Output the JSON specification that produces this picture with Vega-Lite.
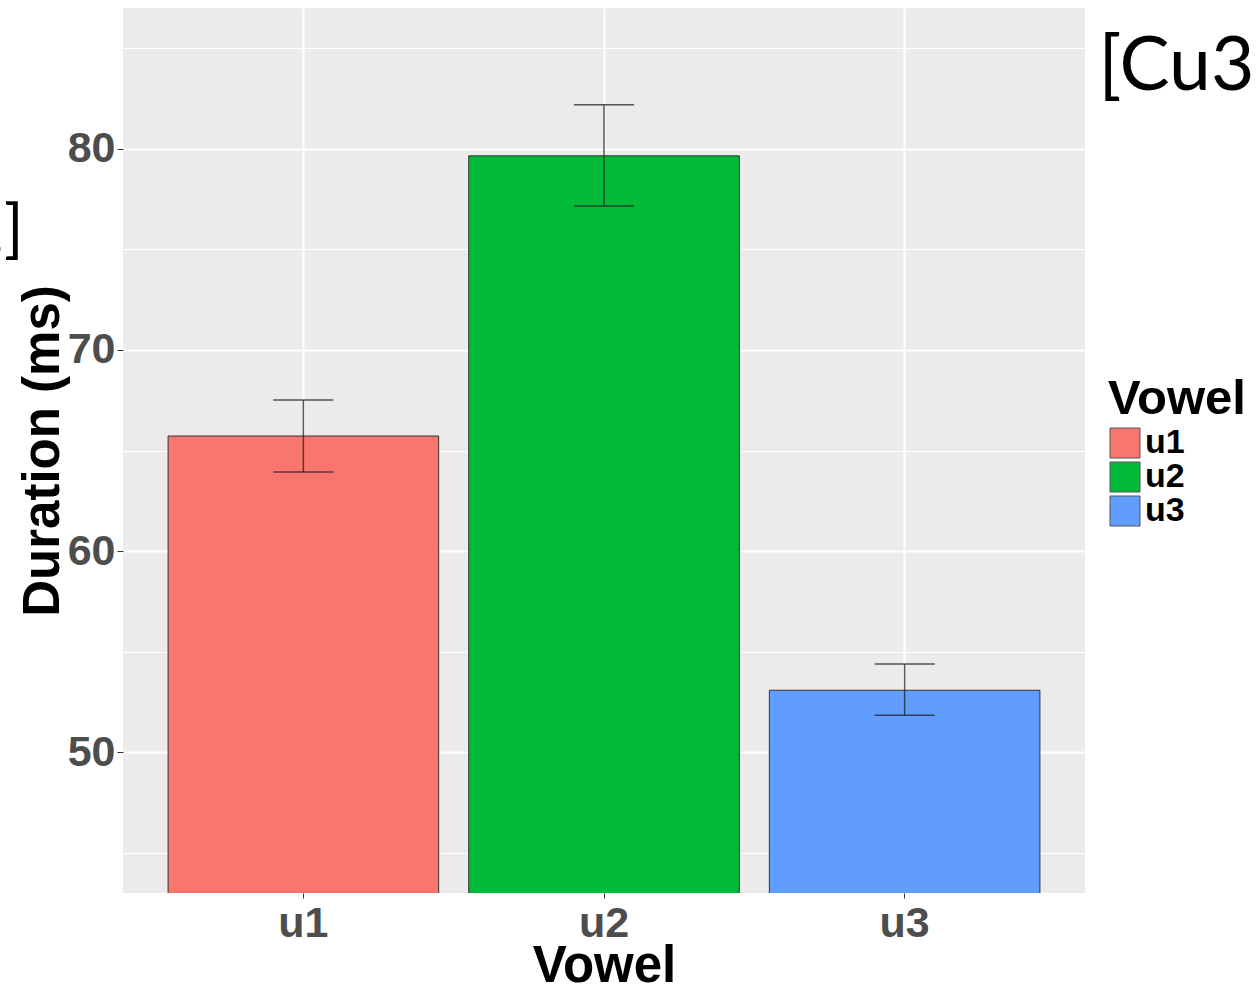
{
  "$schema": "https://vega.github.io/schema/vega-lite/v6.json",
  "autosize": "none",
  "padding": {"left": 123, "top": 8, "right": 174, "bottom": 101},
  "width": 962,
  "height": 885,
  "background": "white",
  "config": {
    "view": {"fill": "#EBEBEB", "stroke": null},
    "font": "Liberation Sans"
  },
  "data": {
    "values": [
      {"Vowel": "u1", "Duration": 65.72, "lo": 63.93, "hi": 67.51},
      {"Vowel": "u2", "Duration": 79.65, "lo": 77.16, "hi": 82.19},
      {"Vowel": "u3", "Duration": 53.08, "lo": 51.84, "hi": 54.38}
    ]
  },
  "encoding": {
    "x": {
      "field": "Vowel",
      "type": "nominal",
      "scale": {"paddingInner": 0.1, "paddingOuter": 0.15},
      "axis": {
        "title": "Vowel",
        "titleFont": "Liberation Sans",
        "titleFontSize": 51,
        "titleFontWeight": "bold",
        "titleColor": "#000000",
        "titlePadding": -4,
        "labelFont": "Liberation Sans",
        "labelFontSize": 43,
        "labelFontWeight": "bold",
        "labelColor": "#4D4D4D",
        "labelAngle": 0,
        "labelPadding": 4,
        "tickColor": "#333333",
        "tickSize": 5,
        "tickWidth": 1,
        "domain": false,
        "grid": true,
        "gridColor": "#FFFFFF",
        "gridWidth": 2,
        "bandPosition": 0.5
      }
    }
  },
  "layer": [
    {
      "mark": {"type": "bar", "clip": true, "stroke": "#333333", "strokeWidth": 1},
      "encoding": {
        "y": {
          "field": "Duration",
          "type": "quantitative",
          "scale": {"domain": [43, 87], "zero": false, "nice": false},
          "axis": {
            "orient": "left",
            "title": "Duration (ms)",
            "titleFont": "Liberation Sans",
            "titleFontSize": 51,
            "titleFontWeight": "bold",
            "titleColor": "#000000",
            "titlePadding": -2,
            "values": [50, 60, 70, 80],
            "labelFont": "Liberation Sans",
            "labelFontSize": 43,
            "labelFontWeight": "bold",
            "labelColor": "#4D4D4D",
            "labelPadding": 2,
            "tickColor": "#333333",
            "tickSize": 6,
            "tickWidth": 1,
            "domain": false,
            "grid": true,
            "gridColor": "#FFFFFF",
            "gridWidth": 2
          }
        },
        "color": {
          "field": "Vowel",
          "type": "nominal",
          "scale": {"domain": ["u1", "u2", "u3"], "range": ["#F8766D", "#00BA38", "#619CFF"]},
          "legend": {
            "orient": "none",
            "legendX": 985,
            "legendY": 367,
            "title": "Vowel",
            "titleFont": "Liberation Sans",
            "titleFontSize": 49,
            "titleFontWeight": "bold",
            "titleColor": "#000000",
            "titlePadding": 2,
            "labelFont": "Liberation Sans",
            "labelFontSize": 34,
            "labelFontWeight": "bold",
            "labelColor": "#000000",
            "labelOffset": 3,
            "symbolType": "square",
            "symbolSize": 900,
            "symbolStrokeColor": "#555555",
            "symbolStrokeWidth": 1,
            "symbolOpacity": 1,
            "rowPadding": 0
          }
        }
      }
    },
    {
      "mark": {"type": "rule", "color": "#222222", "opacity": 0.75, "strokeWidth": 1.5},
      "encoding": {
        "y": {
          "field": "lo",
          "type": "quantitative",
          "axis": {
            "orient": "left",
            "title": "[Cu3",
            "titleX": 975,
            "titleY": 81,
            "titleAngle": 0,
            "titleAlign": "left",
            "titleBaseline": "alphabetic",
            "titleFont": "Lato",
            "titleFontSize": 75,
            "titleFontWeight": "normal",
            "titleColor": "#000000",
            "values": [45, 55, 65, 75, 85],
            "labels": false,
            "ticks": false,
            "domain": false,
            "grid": true,
            "gridColor": "#FFFFFF",
            "gridWidth": 1
          }
        },
        "y2": {"field": "hi"}
      }
    },
    {
      "mark": {"type": "tick", "color": "#222222", "opacity": 0.75, "thickness": 1.5, "size": 60},
      "encoding": {
        "y": {
          "field": "lo",
          "type": "quantitative",
          "axis": {
            "orient": "left",
            "title": "2]",
            "titleX": -100,
            "titleY": 242,
            "titleAngle": 0,
            "titleAlign": "right",
            "titleBaseline": "alphabetic",
            "titleFont": "Lato",
            "titleFontSize": 64,
            "titleFontWeight": "normal",
            "titleColor": "#000000",
            "labels": false,
            "ticks": false,
            "domain": false,
            "grid": false
          }
        }
      }
    },
    {
      "mark": {"type": "tick", "color": "#222222", "opacity": 0.75, "thickness": 1.5, "size": 60},
      "encoding": {
        "y": {"field": "hi", "type": "quantitative", "axis": null}
      }
    }
  ],
  "resolve": {"axis": {"y": "independent"}}
}
